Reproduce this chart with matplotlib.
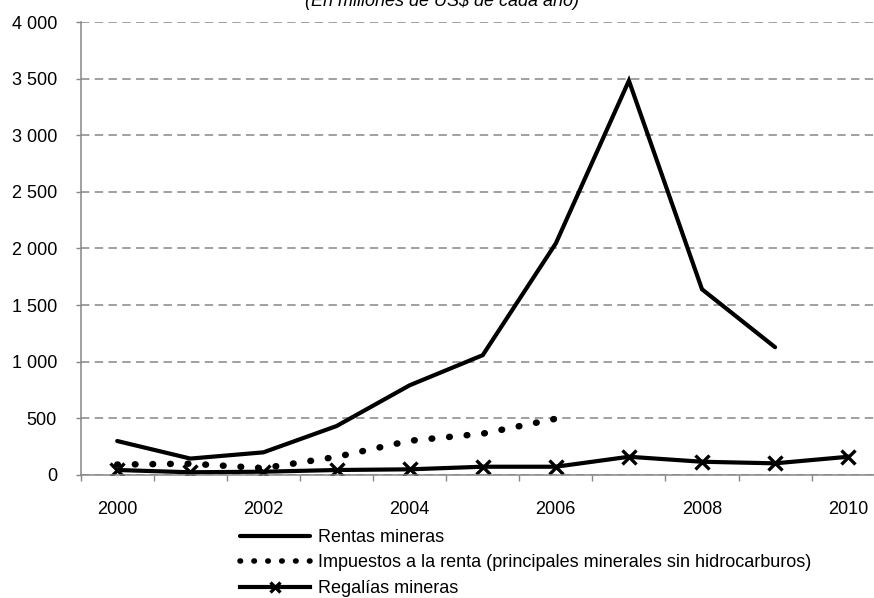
import matplotlib
matplotlib.use("Agg")
import matplotlib.pyplot as plt
from matplotlib.lines import Line2D
from matplotlib.ticker import FuncFormatter

plt.rcParams["font.family"] = ["Liberation Sans", "DejaVu Sans"]
plt.rcParams["font.size"] = 13

years = [2000, 2001, 2002, 2003, 2004, 2005, 2006, 2007, 2008, 2009, 2010]
rentas_years = years[:10]
rentas = [300, 145, 200, 432, 792, 1058, 2045, 3482, 1640, 1128]
impuestos_years = years[:7]
impuestos = [92, 100, 60, 160, 302, 365, 497]
regalias = [44, 24, 29, 44, 50, 73, 73, 161, 117, 103, 161]

label_years = [2000, 2002, 2004, 2006, 2008, 2010]
labels = ["Rentas mineras",
          "Impuestos a la renta (principales minerales sin hidrocarburos)",
          "Regalías mineras"]
title = "(En millones de US$ de cada año)"

grey = "#868686"

fig = plt.figure(figsize=(8.74, 5.98), dpi=100)
ax = fig.add_axes([0.0923, 0.2057, 0.9200, 0.7575])

l1, = ax.plot(rentas_years, rentas, color="black", lw=3.0,
              solid_capstyle="round", solid_joinstyle="miter")
l2, = ax.plot(impuestos_years, impuestos, color="black", lw=4.7,
              linestyle=(0, (0.1, 2.6)), dash_capstyle="round")
l3, = ax.plot(years, regalias, color="black", lw=3.0, marker="x",
              markersize=10, markeredgewidth=2.4)

ax.set_xlim(1999.5, 2010.5)
ax.set_ylim(0, 4000)
ax.set_yticks(range(0, 4001, 500))
ax.yaxis.set_major_formatter(FuncFormatter(lambda v, p: f"{int(v):,}".replace(",", " ")))
ax.yaxis.grid(True, color=grey, linestyle=(0, (5.5, 3.5)), lw=1.1)

# category boundaries get the small ticks, year labels sit on minor ticks
ax.set_xticks([y - 0.5 for y in years] + [2010.5])
ax.set_xticklabels([])
ax.set_xticks(label_years, [str(y) for y in label_years], minor=True)
ax.tick_params(axis="x", which="major", length=4, width=1, color=grey)
ax.tick_params(axis="x", which="minor", length=0, pad=18.5)
ax.tick_params(axis="y", length=3.6, width=1, color=grey, pad=13.5)

for s in ["top", "right"]:
    ax.spines[s].set_visible(False)
for s in ["left", "bottom"]:
    ax.spines[s].set_color(grey)
    ax.spines[s].set_linewidth(1.1)

fig.text(442 / 874, 1 - 5.5 / 598, title, ha="center", va="baseline",
         style="italic", fontsize=13)

# smaller dots in the legend sample, as in the original
dots = Line2D([], [], color="black", lw=4.0, linestyle=(0, (0.1, 2.4)),
              dash_capstyle="round")
fig.legend([l1, dots, l3], labels, loc="upper left",
           bbox_to_anchor=(240 / 874, 1 - 529 / 598), frameon=False,
           handlelength=3.9, handletextpad=0.4, labelspacing=0.47,
           borderpad=0, borderaxespad=0, numpoints=1, markerscale=0.75)

fig.savefig("out.png", dpi=100)
